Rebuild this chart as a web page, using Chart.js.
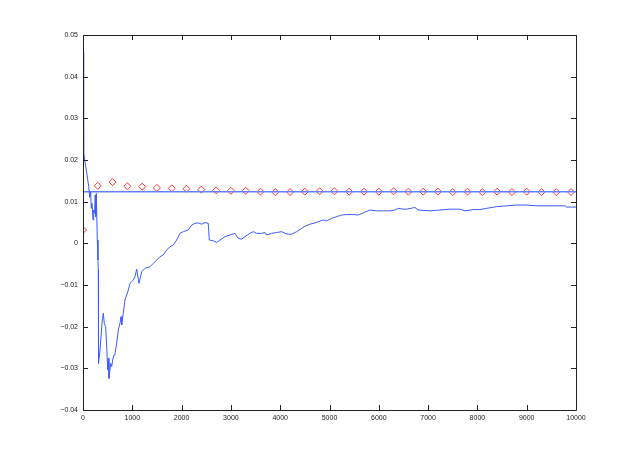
<!DOCTYPE html>
<html>
<head>
<meta charset="utf-8">
<script src="https://cdn.jsdelivr.net/npm/chart.js@4"></script>
<style>
    body { margin: 0; background: #fff; }
    canvas { display: block; }
</style>
</head>
<body>
<canvas id="estimateChart" width="637" height="463"></canvas>
<script>
// running estimate (blue trace)
const traceX = [2, 8, 12, 20, 34, 67, 116, 136, 156, 168, 183, 203, 217, 237, 247, 258, 270, 290, 304, 310, 315,
    345, 391, 412, 432, 460, 481, 501, 513, 527, 562, 582, 602, 629, 649, 683, 716, 750, 771, 785, 817, 852, 886,
    919, 953, 988, 1020, 1055, 1089, 1136, 1190, 1257, 1359, 1426, 1495, 1562, 1628, 1697, 1764, 1831, 1900, 1967,
    2034, 2135, 2204, 2271, 2338, 2407, 2474, 2541, 2561, 2643, 2711, 2778, 2880, 2981, 3083, 3149, 3218, 3285,
    3387, 3454, 3523, 3624, 3691, 3725, 3827, 3928, 4030, 4097, 4164, 4232, 4334, 4435, 4502, 4604, 4705, 4772,
    4873, 4942, 5044, 5145, 5246, 5348, 5482, 5583, 5684, 5820, 5956, 6090, 6226, 6327, 6394, 6496, 6565, 6733,
    6800, 7037, 7240, 7443, 7646, 7747, 7916, 8051, 8187, 8390, 8593, 8796, 8999, 9201, 9404, 9607, 9775, 9810,
    9978, 10000];
const traceY = [0.046, 0.030, 0.035, 0.022, 0.020, 0.0176, 0.0136, 0.011, 0.0124, 0.0084, 0.0096, 0.0056, 0.008,
    0.0072, 0.0116, 0.0064, 0.012, 0.0008, -0.004, -0.0064, -0.0288,
    -0.0256, -0.0184, -0.0168, -0.0192, -0.020, -0.0248, -0.0304, -0.0276, -0.0324, -0.0288, -0.0296, -0.028,
    -0.0268, -0.0264, -0.024, -0.0208, -0.0192, -0.0176, -0.0196, -0.0168, -0.0136, -0.0124,
    -0.0112, -0.0096, -0.0092, -0.0088, -0.008, -0.0062, -0.0096, -0.0068, -0.006, -0.0056, -0.0048, -0.004,
    -0.0032, -0.0028, -0.0016, -0.0008, -0.0004, 0.0008, 0.0024,
    0.0028, 0.0032, 0.0044, 0.0048, 0.0049, 0.0046, 0.005, 0.0048, 0.0008, 0.0006, 0.0002, 0.0008, 0.0016, 0.002,
    0.0024, 0.0012, 0.001, 0.0016,
    0.0024, 0.0028, 0.0024, 0.0024, 0.0026, 0.002, 0.0024, 0.0026, 0.0028, 0.0024, 0.0022, 0.0022, 0.0028, 0.0036,
    0.0041, 0.0046, 0.0049, 0.0052,
    0.0056, 0.0054, 0.006, 0.0064, 0.0068, 0.0069, 0.0069, 0.0068, 0.0073, 0.008, 0.0078, 0.0078, 0.0078, 0.008,
    0.0084, 0.0082, 0.0082, 0.0086,
    0.008, 0.0078, 0.008, 0.0082, 0.0082, 0.0078, 0.0081, 0.0081, 0.0084, 0.0088, 0.009, 0.0092, 0.0092, 0.009,
    0.009, 0.009, 0.009, 0.0087,
    0.0087, 0.0087];

// red diamonds, every 300 samples
const markerX = [0, 300, 600, 900, 1200, 1500, 1800, 2100, 2400, 2700, 3000, 3300, 3600, 3900, 4200, 4500, 4800,
    5100, 5400, 5700, 6000, 6300, 6600, 6900, 7200, 7500, 7800, 8100, 8400, 8700, 9000, 9300, 9600, 9900];
const markerY = [0.0032, 0.0138, 0.0147, 0.0137, 0.0136, 0.0133, 0.0132, 0.0131, 0.0129, 0.0127, 0.0126, 0.0126,
    0.0124, 0.0123, 0.0123, 0.0124, 0.0125, 0.0125, 0.0124, 0.0124, 0.0124, 0.0125, 0.0124, 0.0124, 0.0124,
    0.0123, 0.0124, 0.0123, 0.0124, 0.0123, 0.0124, 0.0123, 0.0123, 0.0123];

// reference level
const levelX = [0, 10000];
const levelY = 0.0124;

const xTicks = [0, 1000, 2000, 3000, 4000, 5000, 6000, 7000, 8000, 9000, 10000];
const xTickLabels = ["0", "1000", "2000", "3000", "4000", "5000", "6000", "7000", "8000", "9000", "10000"];
const yTicks = [-0.04, -0.03, -0.02, -0.01, 0, 0.01, 0.02, 0.03, 0.04, 0.05];
const yTickLabels = ["\u22120.04", "\u22120.03", "\u22120.02", "\u22120.01", "0", "0.01", "0.02", "0.03", "0.04", "0.05"];

const boxTicks = {
    id: "boxTicks",
    afterDraw(chart) {
        const {ctx, chartArea: a, scales} = chart;
        const len = 5;
        ctx.save();
        ctx.strokeStyle = "#222";
        ctx.lineWidth = 1;
        ctx.beginPath();
        ctx.rect(Math.round(a.left) + 0.5, Math.round(a.top) + 0.5, Math.round(a.right - a.left), Math.round(a.bottom - a.top));
        xTicks.forEach(v => {
            const px = Math.round(scales.x.getPixelForValue(v)) + 0.5;
            ctx.moveTo(px, a.bottom); ctx.lineTo(px, a.bottom - len);
            ctx.moveTo(px, a.top); ctx.lineTo(px, a.top + len);
        });
        yTicks.forEach(v => {
            const py = Math.round(scales.y.getPixelForValue(v)) + 0.5;
            ctx.moveTo(a.left, py); ctx.lineTo(a.left + len, py);
            ctx.moveTo(a.right, py); ctx.lineTo(a.right - len, py);
        });
        ctx.stroke();
        ctx.restore();
    }
};

new Chart(document.getElementById("estimateChart"), {
    type: "line",
    data: {
        datasets: [{
            label: "estimate",
            data: traceX.map((x, i) => ({x: x, y: traceY[i]})),
            borderColor: "rgb(60,90,255)",
            borderWidth: 1,
            pointRadius: 0,
            tension: 0,
        }, {
            label: "level",
            data: levelX.map(x => ({x: x, y: levelY})),
            borderColor: "rgb(100,130,255)",
            borderWidth: 1.5,
            pointRadius: 0,
        }, {
            label: "samples",
            data: markerX.map((x, i) => ({x: x, y: markerY[i]})),
            showLine: false,
            pointStyle: "rectRot",
            pointRadius: 3.5,
            pointBorderWidth: 1,
            pointBorderColor: "rgb(255,50,50)",
            pointBackgroundColor: "rgba(0,0,0,0)",
        }]
    },
    options: {
        responsive: false,
        animation: false,
        layout: {padding: {top: 35, right: 61, left: 0, bottom: 0}},
        plugins: {legend: {display: false}, tooltip: {enabled: false}},
        scales: {
            x: {
                type: "linear",
                min: 0,
                max: 10000,
                afterBuildTicks: s => { s.ticks = xTicks.map(v => ({value: v})); },
                afterFit: s => { s.height = 53; },
                grid: {display: false, drawTicks: false},
                border: {display: false},
                ticks: {
                    padding: 4,
                    maxRotation: 0,
                    color: "#222",
                    font: {family: "Liberation Sans", size: 7},
                    callback: (v) => xTickLabels[xTicks.indexOf(v)],
                },
            },
            y: {
                type: "linear",
                min: -0.04,
                max: 0.05,
                afterBuildTicks: s => { s.ticks = yTicks.map(v => ({value: v})); },
                afterFit: s => { s.width = 83; },
                grid: {display: false, drawTicks: false},
                border: {display: false},
                ticks: {
                    padding: 5,
                    color: "#222",
                    font: {family: "Liberation Sans", size: 7},
                    callback: (v, i) => yTickLabels[i],
                },
            },
        },
    },
    plugins: [boxTicks],
});
</script>
</body>
</html>
